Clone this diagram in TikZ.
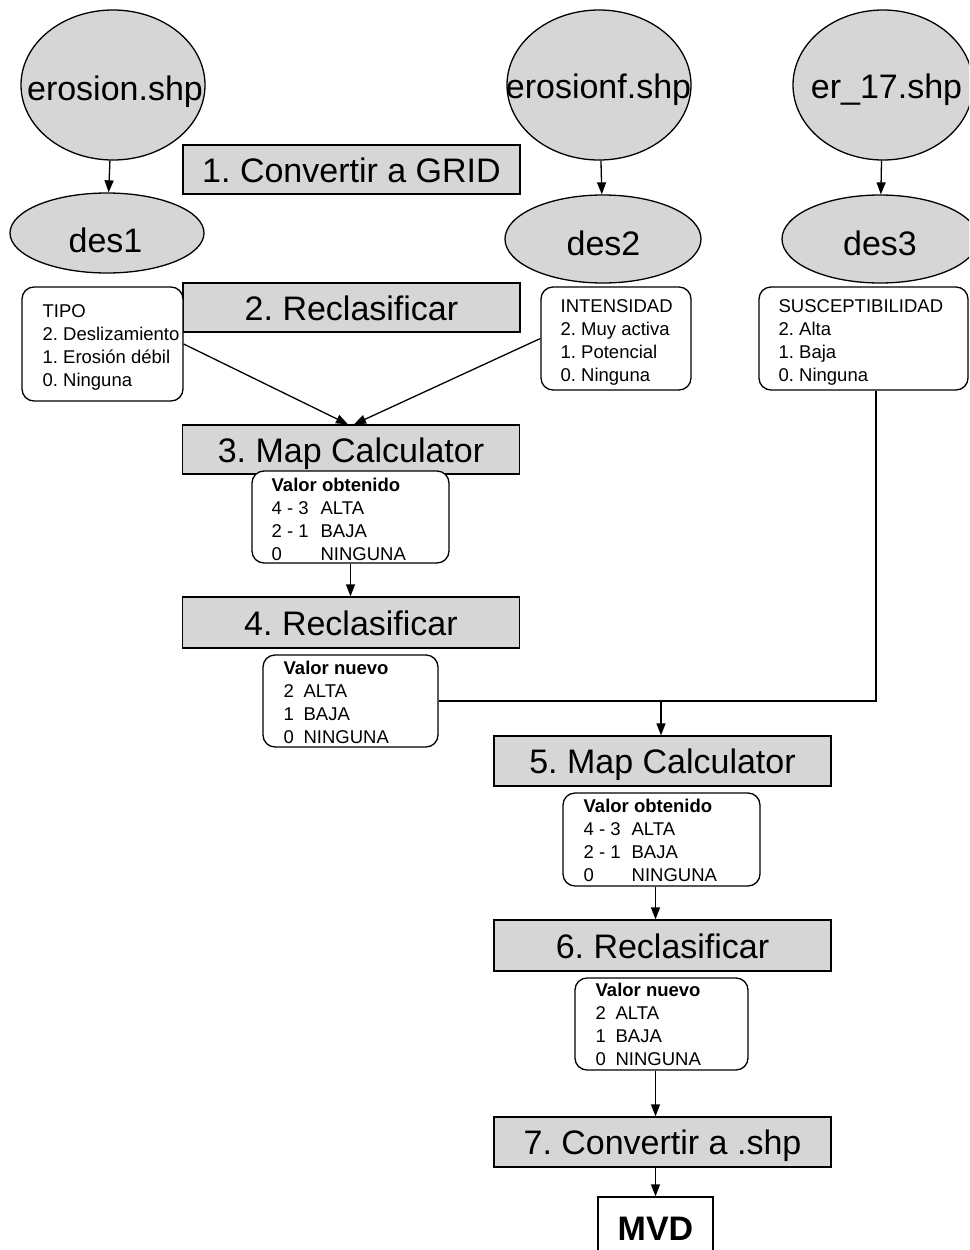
\documentclass[tikz,border=0pt]{standalone}
\usepackage{fontspec}
\setmainfont{Liberation Sans}
\usetikzlibrary{arrows.meta,shapes.geometric}
\definecolor{boxgray}{RGB}{214,214,214}
\newcommand\bigf{\fontsize{34}{40}\selectfont}
\newcommand\smf{\fontsize{18.5}{23}\selectfont}
\newcommand\colw[2]{\makebox[#1pt][l]{#2}}
\frenchspacing
\begin{document}
\begin{tikzpicture}[x=1pt,y=-1pt,line width=1.3pt,
  proc/.style={draw,fill=boxgray,minimum width=337,minimum height=49,inner sep=0,font=\bigf,text height=28,text depth=3},
  ell/.style={draw,ellipse,fill=boxgray,inner sep=0},
  bigtxt/.style={font=\bigf,inner sep=0,anchor=base},
  note/.style={draw,fill=white,rounded corners=12,inner sep=0},
  ntxt/.style={font=\smf,inner sep=0,anchor=base west},
  arr/.style={-{Triangle[length=12,width=9]}}]
\useasboundingbox (0,0) rectangle (969,1250);
\clip (0,0) rectangle (969,1250);
% ellipses
\node[ell,minimum width=184,minimum height=150] (e1) at (113,85) {};
\node[ell,minimum width=184,minimum height=150] (e2) at (599,85) {};
\node[ell,minimum width=180,minimum height=150] (e3) at (883,85) {};
\node[ell,minimum width=194,minimum height=80] (d1) at (107,233) {};
\node[ell,minimum width=196,minimum height=88] (d2) at (603,239) {};
\node[ell,minimum width=196,minimum height=88] (d3) at (880,239) {};
\node[bigtxt] (t1) at (115,100) {erosion.shp};
\node[bigtxt] (t2) at (598.5,98) {erosionf.shp};
\node[bigtxt] (t3) at (886.5,98) {er\_17.shp};
\node[bigtxt] (t4) at (105.5,252) {des1};
\node[bigtxt] (t5) at (603.5,255) {des2};
\node[bigtxt] (t6) at (880,255) {des3};
% process boxes
\node[proc] (b1) at (351.5,169.5) {1. Convertir a GRID};
\node[proc] (b2) at (351.5,307.5) {2. Reclasificar};
\node[proc] (b3) at (351,449.5) {3. Map Calculator};
\node[proc,minimum height=51] (b4) at (351,622.5) {4. Reclasificar};
\node[proc,minimum height=50] (b5) at (662.5,761) {5. Map Calculator};
\node[proc,minimum height=51] (b6) at (662.5,945.5) {6. Reclasificar};
\node[proc,minimum height=50] (b7) at (662.5,1142) {7. Convertir a .shp};
% note boxes
\node[note,minimum width=161,minimum height=114] (tipo) at (102.5,344) {};
\node[note,minimum width=150,minimum height=103] (inten) at (616,338.5) {};
\node[note,minimum width=209,minimum height=103] (susc) at (863.5,338.5) {};
\node[note,minimum width=197,minimum height=92] (vo1) at (350.5,517) {};
\node[note,minimum width=175,minimum height=92] (vn1) at (350.5,701) {};
\node[note,minimum width=197,minimum height=93] (vo2) at (661.5,839.5) {};
\node[note,minimum width=173,minimum height=92] (vn2) at (661.5,1024) {};
\node[draw,fill=white,inner sep=0,minimum width=115,minimum height=93] (mvd) at (655.5,1243.5) {};
\node[bigtxt,font=\bigf\bfseries] (mvdt) at (655.5,1240) {MVD};
% note texts
\node[ntxt] (tipot) at (42,317.5) {\begin{tabular}[t]{@{}l@{}}TIPO\\2. Deslizamiento\\1. Erosión débil\\0. Ninguna\end{tabular}};
\node[ntxt] (intent) at (560,312) {\begin{tabular}[t]{@{}l@{}}INTENSIDAD\\2. Muy activa\\1. Potencial\\0. Ninguna\end{tabular}};
\node[ntxt] (susct) at (778,312) {\begin{tabular}[t]{@{}l@{}}SUSCEPTIBILIDAD\\2. Alta\\1. Baja\\0. Ninguna\end{tabular}};
\node[ntxt] (vo1t) at (271,491.7) {\begin{tabular}[t]{@{}l@{}}\textbf{Valor obtenido}\\\colw{49}{4 - 3}ALTA\\\colw{49}{2 - 1}BAJA\\\colw{49}{0}NINGUNA\end{tabular}};
\node[ntxt] (vn1t) at (283,674.3) {\begin{tabular}[t]{@{}l@{}}\textbf{Valor nuevo}\\\colw{20}{2}ALTA\\\colw{20}{1}BAJA\\\colw{20}{0}NINGUNA\end{tabular}};
\node[ntxt] (vo2t) at (583,812.7) {\begin{tabular}[t]{@{}l@{}}\textbf{Valor obtenido}\\\colw{48}{4 - 3}ALTA\\\colw{48}{2 - 1}BAJA\\\colw{48}{0}NINGUNA\end{tabular}};
\node[ntxt] (vn2t) at (595,996.7) {\begin{tabular}[t]{@{}l@{}}\textbf{Valor nuevo}\\\colw{20}{2}ALTA\\\colw{20}{1}BAJA\\\colw{20}{0}NINGUNA\end{tabular}};
% connectors
\draw[arr] (e1) -- (d1);
\draw[arr] (e2) -- (d2);
\draw[arr] (e3) -- (d3);
\draw[arr] (tipo.east) -- ([xshift=-3pt]b3.north);
\draw[arr] (inten.west) -- ([xshift=3pt]b3.north);
\draw[arr] (vo1.south) -- (vo1.south |- b4.north);
\coordinate (c1) at (876,701);
\draw (susc.south -| c1) -- (c1) -- (vn1.east);
\draw[arr] ([xshift=-1.5pt]b5.north |- c1) -- ([xshift=-1.5pt]b5.north);
\draw[arr] (vo2.south -| mvd.north) -- (b6.north -| mvd.north);
\draw[arr] (vn2.south -| mvd.north) -- (b7.north -| mvd.north);
\draw[arr] (b7.south -| mvd.north) -- (mvd.north);
\end{tikzpicture}
\end{document}
